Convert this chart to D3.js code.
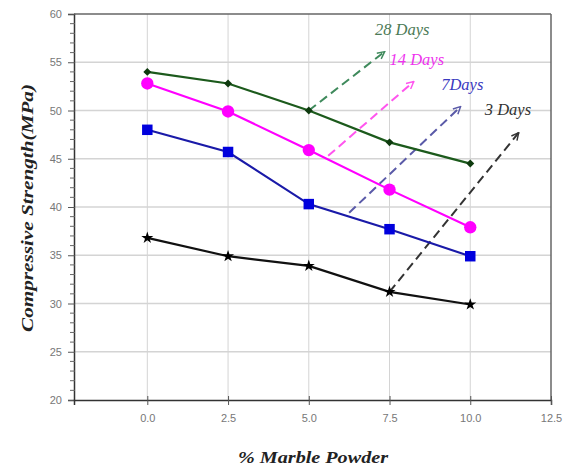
<!DOCTYPE html>
<html><head><meta charset="utf-8">
<script src="https://cdn.jsdelivr.net/npm/d3@7"></script>
<style>body{margin:0;background:#fff}</style>
</head><body>
<svg id="c" width="568" height="470"></svg>
<script>
const xValues = [0, 2.5, 5, 7.5, 10];
const days28 = [54.0, 52.8, 50.0, 46.7, 44.5];
const days14 = [52.8, 49.9, 45.9, 41.8, 37.9];
const days7  = [48.0, 45.7, 40.3, 37.7, 34.9];
const days3  = [36.8, 34.9, 33.9, 31.2, 29.9];
const seriesNames = ["28 Days", "14 Days", "7Days", "3 Days"];
const xTicks = [0, 2.5, 5, 7.5, 10, 12.5];
const yTicks = [20, 25, 30, 35, 40, 45, 50, 55, 60];
// annotation arrows: [x, y] in data units
const arrowStarts = [[5.0, 50.0], [5.6, 45.3], [6.25, 39.4], [7.5, 31.2]];
const arrowEnds   = [[7.35, 56.1], [8.25, 53.0], [9.7, 50.4], [11.5, 47.7]];
const labelPos    = [[7.05, 57.8], [7.5, 54.7], [9.1, 52.1], [10.45, 49.5]];

const svg = d3.select("#c");
const L = 74, R = 551, T = 14, B = 400;
const x = d3.scaleLinear().domain([-2.27, 12.5]).range([L, R]);
const y = d3.scaleLinear().domain([20, 60]).range([B, T]);

// gridlines
svg.append("g").selectAll("line").data(xTicks.filter(d => d < 12.5)).join("line")
  .attr("x1", d => x(d)).attr("x2", d => x(d)).attr("y1", T).attr("y2", B)
  .attr("stroke", "#d4d4d4").attr("stroke-width", 1);
svg.append("g").selectAll("line").data(yTicks.filter(d => d > 20 && d < 60)).join("line")
  .attr("x1", L).attr("x2", R).attr("y1", d => y(d)).attr("y2", d => y(d))
  .attr("stroke", "#d4d4d4").attr("stroke-width", 1.5);

// frame top/right
svg.append("line").attr("x1", L).attr("x2", R).attr("y1", T).attr("y2", T).attr("stroke", "#666").attr("stroke-width", 1.5);
svg.append("line").attr("x1", R).attr("x2", R).attr("y1", T).attr("y2", B).attr("stroke", "#666").attr("stroke-width", 1.5);

// y axis
const yAxis = d3.axisLeft(y).tickValues(yTicks).tickSize(6).tickFormat(d3.format("d"));
const gy = svg.append("g").attr("transform", `translate(${L},0)`).call(yAxis);
gy.select(".domain").attr("stroke", "#333").attr("stroke-width", 1.5);
gy.selectAll(".tick line").attr("stroke", "#555").attr("x2", -6).attr("x1", 1);
gy.selectAll("text").attr("fill", "#777").attr("font-family", "Liberation Sans, Arial, sans-serif").attr("font-size", 11).attr("dx", -3);
const minor = d3.range(20, 60, 1).filter(d => d % 5 !== 0);
svg.append("g").selectAll("line").data(minor).join("line")
  .attr("x1", L - 4).attr("x2", L + 1).attr("y1", d => y(d)).attr("y2", d => y(d))
  .attr("stroke", "#666").attr("stroke-width", 1);

// x axis
const xAxis = d3.axisBottom(x).tickValues(xTicks).tickSize(5).tickFormat(d3.format(".1f"));
const gx = svg.append("g").attr("transform", `translate(0,${B})`).call(xAxis);
gx.select(".domain").attr("stroke", "#333").attr("stroke-width", 1.5);
gx.selectAll(".tick line").attr("stroke", "#555").attr("y1", -4);
gx.selectAll("text").attr("fill", "#777").attr("font-family", "Liberation Sans, Arial, sans-serif").attr("font-size", 11).attr("dy", "1.3em");

// axis titles
svg.append("text").attr("x", 313).attr("y", 463).attr("text-anchor", "middle")
  .attr("font-family", "Liberation Serif, Times New Roman, serif").attr("font-style", "italic").attr("font-weight", "bold")
  .attr("font-size", 17).attr("fill", "#222").attr("textLength", 150).attr("lengthAdjust", "spacingAndGlyphs")
  .text("% Marble Powder");
svg.append("text").attr("transform", "translate(33,208) rotate(-90)").attr("text-anchor", "middle")
  .attr("font-family", "Liberation Serif, Times New Roman, serif").attr("font-style", "italic").attr("font-weight", "bold")
  .attr("font-size", 17).attr("fill", "#222").attr("textLength", 248).attr("lengthAdjust", "spacingAndGlyphs")
  .text("Compressive Strength(MPa)");

const series = [
  {vals: days28, line: "#1c5a1c", mark: "#0e3a0e", sym: d3.symbolDiamond2, size: 40},
  {vals: days14, line: "#ff00ff", mark: "#ff00ff", sym: d3.symbolCircle, size: 120},
  {vals: days7,  line: "#1a1aa8", mark: "#0000dd", sym: d3.symbolSquare, size: 110},
  {vals: days3,  line: "#111111", mark: "#000000", sym: d3.symbolStar, size: 45}
];
const arrowColors = ["#3f8a5c", "#ff55ee", "#5a5aa8", "#333333"];
const labelColors = ["#4c7a56", "#ee33ee", "#3a3ac0", "#333333"];

// arrow markers
const defs = svg.append("defs");
arrowColors.forEach((c, i) => {
  defs.append("marker").attr("id", "ah" + i).attr("viewBox", "0 0 10 10").attr("refX", 9).attr("refY", 5)
    .attr("markerWidth", 9).attr("markerHeight", 9).attr("orient", "auto").attr("markerUnits", "userSpaceOnUse")
    .append("path").attr("d", "M1,1 L9,5 L1,9").attr("fill", "none").attr("stroke", c).attr("stroke-width", 1.6);
});

// arrows
arrowStarts.forEach((s, i) => {
  const e = arrowEnds[i];
  svg.append("line").attr("x1", x(s[0])).attr("y1", y(s[1])).attr("x2", x(e[0])).attr("y2", y(e[1]))
    .attr("stroke", arrowColors[i]).attr("stroke-width", 2).attr("stroke-dasharray", "9,5")
    .attr("marker-end", `url(#ah${i})`);
  svg.append("text").attr("x", x(labelPos[i][0])).attr("y", y(labelPos[i][1]))
    .attr("font-family", "Liberation Serif, Times New Roman, serif").attr("font-style", "italic")
    .attr("font-size", 16.5).attr("fill", labelColors[i]).text(seriesNames[i]);
});

// lines and markers
series.forEach(s => {
  const data = xValues.map((xv, i) => [xv, s.vals[i]]);
  svg.append("path").datum(data).attr("fill", "none").attr("stroke", s.line).attr("stroke-width", 2.2)
    .attr("d", d3.line().x(d => x(d[0])).y(d => y(d[1])));
  svg.append("g").selectAll("path").data(data).join("path")
    .attr("transform", d => `translate(${x(d[0])},${y(d[1])})`)
    .attr("d", d3.symbol().type(s.sym).size(s.size)).attr("fill", s.mark);
});
</script>
</body></html>
